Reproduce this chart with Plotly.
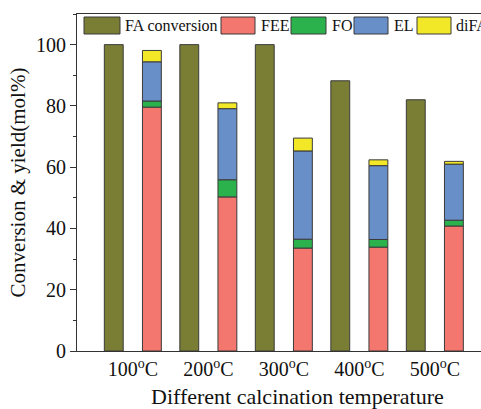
import plotly.graph_objects as go

categories = ["100<sup>o</sup>C", "200<sup>o</sup>C", "300<sup>o</sup>C", "400<sup>o</sup>C", "500<sup>o</sup>C"]
fa_conversion = [100.0, 100.0, 100.0, 88.2, 82.0]
fee = [79.6, 50.3, 33.6, 33.9, 40.8]
fo = [2.0, 5.6, 2.9, 2.5, 1.9]
el = [12.8, 23.2, 28.8, 24.1, 18.3]
difa = [3.7, 1.9, 4.2, 1.9, 0.9]

series_names = ["FA conversion", "FEE", "FO", "EL", "diFA"]
colors = ["#7a7d34", "#f4776f", "#2bb24c", "#698fc9", "#f2e827"]
edge = "#3a3a3a"
font_family = "Liberation Serif, Times New Roman, serif"

W, H = 481, 409
ML, MR, MT, MB = 77, 0, 14, 58
plot_w = W - ML - MR

fig = go.Figure()

bar_w = 0.25
fig.add_trace(go.Bar(
    x=categories, y=fa_conversion, name=series_names[0],
    marker=dict(color=colors[0], line=dict(color=edge, width=1)),
    width=bar_w, offset=-0.38, showlegend=False,
))

stack = [fee, fo, el, difa]
base = [0.0] * len(categories)
for name, vals, col in zip(series_names[1:], stack, colors[1:]):
    fig.add_trace(go.Bar(
        x=categories, y=vals, base=list(base), name=name,
        marker=dict(color=col, line=dict(color=edge, width=1)),
        width=bar_w, offset=0.125, showlegend=False,
    ))
    base = [b + v for b, v in zip(base, vals)]

def px_to_paper_x(px):
    return (px - ML) / plot_w
def py_to_paper_y(py):
    return 1 - (py - MT) / (H - MT - MB)

# custom legend (swatches + labels), clipped at right edge like the reference
swatch_px = [(84, 120), (221, 255), (291, 326), (354, 388), (417, 451)]
text_px = [123, 259, 330, 392, 454]

shapes = []
annotations = []
for (x0, x1), tx, name, col in zip(swatch_px, text_px, series_names, colors):
    shapes.append(dict(type="rect", xref="paper", yref="paper",
                       x0=px_to_paper_x(x0), x1=px_to_paper_x(x1),
                       y0=py_to_paper_y(34), y1=py_to_paper_y(17),
                       fillcolor=col, line=dict(color=edge, width=1)))
    annotations.append(dict(xref="paper", yref="paper", x=px_to_paper_x(tx), y=py_to_paper_y(25.5),
                            xanchor="left", yanchor="middle", text=name, showarrow=False,
                            font=dict(family=font_family, size=16, color="#111")))

# x-axis title (centred on the full, clipped plot area of the original)
annotations.append(dict(xref="paper", yref="paper", x=px_to_paper_x(297), y=py_to_paper_y(396),
                        xanchor="center", yanchor="middle", showarrow=False,
                        text="Different calcination temperature",
                        font=dict(family=font_family, size=22, color="#111")))

fig.update_layout(
    width=W, height=H,
    margin=dict(l=ML, r=MR, t=MT, b=MB, autoexpand=False),
    paper_bgcolor="white", plot_bgcolor="white",
    barmode="overlay",
    font=dict(family=font_family, size=20, color="#111"),
    shapes=shapes, annotations=annotations,
    showlegend=False,
)
fig.update_xaxes(
    range=[-0.742, -0.742 + plot_w / 75.5],
    showline=True, linecolor="#333", linewidth=1, mirror=True,
    ticks="", showgrid=False, zeroline=False,
    tickfont=dict(family=font_family, size=20),
)
fig.update_yaxes(
    range=[0, 110], tickmode="array", tickvals=[0, 20, 40, 60, 80, 100],
    showline=True, linecolor="#333", linewidth=1, mirror=False,
    ticks="outside", ticklen=6, tickcolor="#333",
    minor=dict(dtick=10, tick0=0, ticks="outside", ticklen=3, tickcolor="#333"),
    showgrid=False, zeroline=False,
    tickfont=dict(family=font_family, size=20),
    title=dict(text="Conversion & yield(mol%)", font=dict(family=font_family, size=21), standoff=4),
)

fig.write_html("out.html")
